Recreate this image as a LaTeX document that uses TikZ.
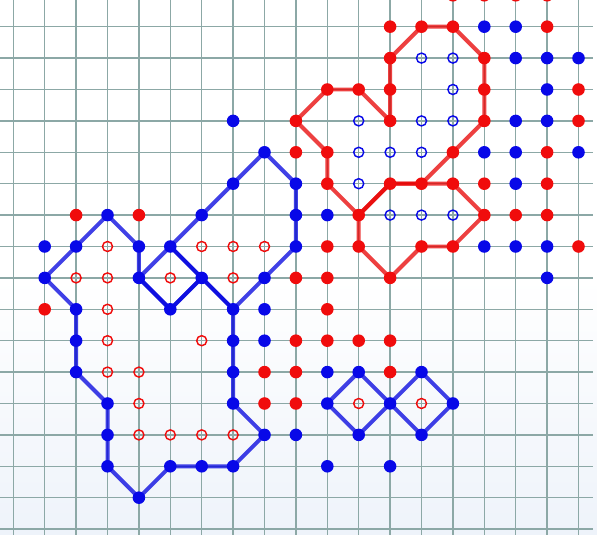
\documentclass[tikz,border=0pt]{standalone}
\usepackage{xcolor}
\usepackage{tikz}
\usetikzlibrary{calc}

\definecolor{luoi}{RGB}{140,168,166}
\definecolor{nen}{RGB}{238,243,250}
\definecolor{do}{RGB}{240,12,12}
\definecolor{xanh}{RGB}{8,8,232}
\definecolor{doduong}{RGB}{232,0,0}
\definecolor{xanhduong}{RGB}{0,0,222}

\tikzset{
    luoiken/.style={draw=luoi, line width=1.4pt},
    duongdo/.style={draw=doduong, draw opacity=0.75, line width=3.6pt, line join=round},
    duongxanh/.style={draw=xanhduong, draw opacity=0.75, line width=3.6pt, line join=round},
    chamdo/.style={fill=do},
    chamxanh/.style={fill=xanh},
    vongdo/.style={draw=do, line width=1.3pt, fill=white, fill opacity=0},
    vongxanh/.style={draw=xanh, line width=1.3pt, fill=white, fill opacity=0}
}

\begin{document}
\begin{tikzpicture}[x=1cm, y=-1cm]
    % Khung va nen
    \useasboundingbox (-0.424,-0.85) rectangle (18.589,16.188);
    \fill[white] (-0.424,-0.85) rectangle (18.589,16.188);
    \shade[top color=white, bottom color=nen] (-0.424,8) rectangle (18.589,16.188);

    % Ve luoi
    \foreach \j in {-1,...,16}
        \draw[luoiken] (-0.424,\j) -- (18.46,\j);
    \foreach \i in {0,...,18}
        \draw[luoiken] (\i,-0.85) -- (\i,16.188);

    % Dat ten cac diem luoi
    \foreach \i in {0,...,18}
        \foreach \j in {-1,...,16}
            \coordinate (p\i-\j) at (\i,\j);

    % Duong gap khuc mau do
    \draw[duongdo] (p12-1) -- (p13-0) -- (p14-0) -- (p15-1) -- (p15-2) -- (p15-3)
        -- (p14-4) -- (p13-5) -- (p12-5) -- (p11-6) -- (p10-5) -- (p10-4)
        -- (p9-3) -- (p10-2) -- (p11-2) -- (p12-3) -- (p12-2) -- cycle;
    \draw[duongdo] (p11-6) -- (p12-5) -- (p13-5) -- (p14-5) -- (p15-6)
        -- (p14-7) -- (p13-7) -- (p12-8) -- (p11-7) -- cycle;

    % Duong gap khuc mau xanh
    \draw[duongxanh] (p4-8) -- (p4-7) -- (p3-6) -- (p2-7) -- (p1-8) -- (p2-9)
        -- (p2-10) -- (p2-11) -- (p3-12) -- (p3-13) -- (p3-14) -- (p4-15)
        -- (p5-14) -- (p6-14) -- (p7-14) -- (p8-13) -- (p7-12) -- (p7-11)
        -- (p7-10) -- (p7-9) -- (p6-8) -- (p5-9) -- cycle;
    \draw[duongxanh] (p5-7) -- (p6-6) -- (p7-5) -- (p8-4) -- (p9-5) -- (p9-6)
        -- (p9-7) -- (p8-8) -- (p7-9) -- (p6-8) -- cycle;
    \draw[duongxanh] (p4-8) -- (p5-7) -- (p6-8) -- (p5-9) -- cycle;
    \draw[duongxanh] (p10-12) -- (p11-11) -- (p12-12) -- (p11-13) -- cycle;
    \draw[duongxanh] (p12-12) -- (p13-11) -- (p14-12) -- (p13-13) -- cycle;

    % Cac cham do
    \foreach \i/\j in {14/-1,15/-1,16/-1,17/-1, 12/0,13/0,14/0,17/0, 12/1,15/1,
        10/2,11/2,12/2,15/2,18/2, 9/3,12/3,15/3,18/3, 9/4,10/4,14/4,17/4,
        10/5,12/5,13/5,14/5,15/5,17/5, 2/6,4/6,11/6,15/6,16/6,17/6,
        10/7,11/7,13/7,14/7,18/7, 9/8,10/8,12/8, 1/9,10/9,
        9/10,10/10,11/10,12/10, 8/11,9/11,12/11, 8/12,9/12}
        \fill[chamdo] (p\i-\j) circle (0.2);

    % Cac cham xanh
    \foreach \i/\j in {15/0,16/0, 16/1,17/1,18/1, 17/2, 7/3,16/3,17/3,
        8/4,15/4,16/4,18/4, 7/5,9/5,16/5, 3/6,6/6,9/6,10/6,
        1/7,2/7,4/7,5/7,9/7,15/7,16/7,17/7, 1/8,4/8,6/8,8/8,17/8,
        2/9,5/9,7/9,8/9, 2/10,7/10,8/10, 2/11,7/11,10/11,11/11,13/11,
        3/12,7/12,10/12,12/12,14/12, 3/13,8/13,9/13,11/13,13/13,
        3/14,5/14,6/14,7/14,10/14,12/14, 4/15}
        \fill[chamxanh] (p\i-\j) circle (0.2);

    % Cac vong tron rong
    \foreach \i/\j in {3/7,6/7,7/7,8/7, 2/8,3/8,5/8,7/8, 3/9, 3/10,6/10,
        3/11,4/11, 4/12,11/12,13/12, 4/13,5/13,6/13,7/13}
        \draw[vongdo] (p\i-\j) circle (0.16);
    \foreach \i/\j in {13/1,14/1, 14/2, 11/3,13/3,14/3, 11/4,12/4,13/4,
        11/5, 12/6,13/6,14/6}
        \draw[vongxanh] (p\i-\j) circle (0.16);
\end{tikzpicture}
\end{document}
